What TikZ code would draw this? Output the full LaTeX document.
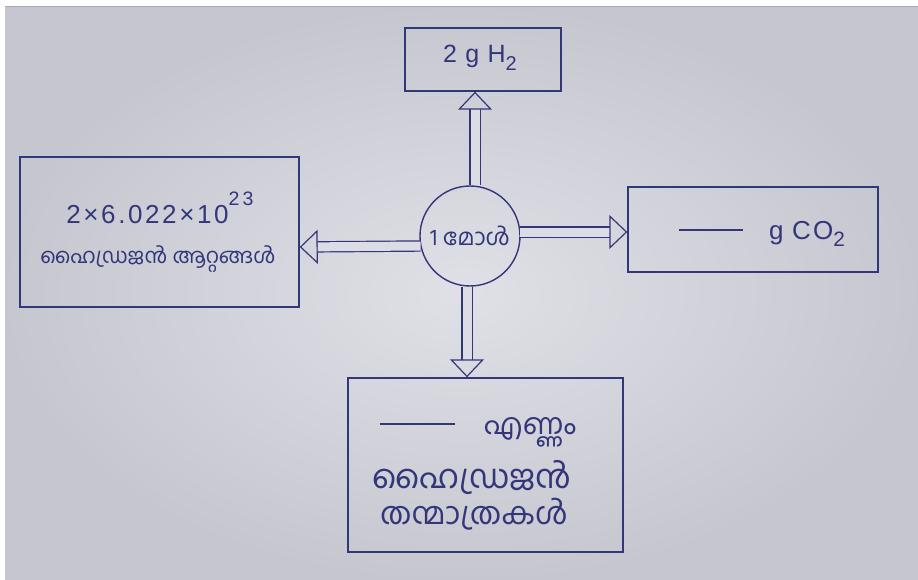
\documentclass[tikz,border=0pt]{standalone}
\usepackage{fontspec}
\setmainfont{Liberation Sans}
\newfontfamily\mlfont[Script=Malayalam]{Hind Kochi}
\usetikzlibrary{arrows.meta,calc}
\definecolor{ink}{HTML}{34367A}
\definecolor{paper}{HTML}{DCDCE4}
\definecolor{paperdark}{HTML}{A6A7B2}
\newcommand{\lowtwo}{\raisebox{-0.3em}{\scalebox{0.8}{2}}}
\newcommand{\hightt}{\raisebox{0.7em}{\scalebox{0.75}{2\,3}}}
\tikzset{
  box/.style={draw=ink, line width=1.4pt, inner sep=0pt},
  lbl/.style={text=ink, align=center},
  conn/.style={draw=ink, line width=1.2pt, double=paper, double distance=9pt,
    -{Triangle[open, length=18pt, width=34pt, line width=1.2pt]}},
}
\begin{document}
\begin{tikzpicture}[x=1pt,y=-1pt]
\useasboundingbox (0,0) rectangle (918,580);
\fill[white] (0,0) rectangle (918,580);
\shade[inner color=paper!70!white, outer color=paperdark] (5,7) rectangle (918,580);
\fill[paper, opacity=0.6] (5,7) rectangle (918,580);

% nodes
\node[box, minimum width=156pt, minimum height=63pt] (top) at (483,59.5) {};
\node[box, minimum width=279pt, minimum height=150pt] (left) at (159.5,232) {};
\node[box, minimum width=250pt, minimum height=85pt] (right) at (753,229.5) {};
\node[box, minimum width=275pt, minimum height=174pt] (bot) at (485.5,465) {};
\node[draw=ink, line width=1.4pt, circle, minimum size=100pt, inner sep=0pt] (c) at (470,236) {};

% texts
\node[lbl, font=\fontsize{25}{28}\selectfont\addfontfeature{LetterSpace=8}] (tt) at (480,58) {2\,\,g\,\,H\lowtwo};
\node[lbl, font=\fontsize{26}{28}\selectfont\addfontfeature{LetterSpace=10}] (lt1) at (160,208) {2×6.022×10\hightt};
\node[lbl, font=\mlfont\fontsize{21}{24}\selectfont] (lt2) at (158,259) {ഹൈഡ്രജൻ ആറ്റങ്ങൾ};
\node[lbl, font=\fontsize{26}{28}\selectfont\addfontfeature{LetterSpace=8}] (rt) at (762,234) {\rule[0.3em]{64pt}{2pt}\quad g\,\,CO\lowtwo};
\node[lbl, font=\mlfont\fontsize{29}{32}\selectfont] (bt1) at (478,432) {\rule[0.3em]{75pt}{2pt}\quad എണ്ണം};
\node[lbl, font=\mlfont\fontsize{33}{36}\selectfont] (bt2) at (472,478) {ഹൈഡ്രജൻ};
\node[lbl, font=\mlfont\fontsize{31}{34}\selectfont] (bt3) at (474,514) {തന്മാത്രകൾ};
\node[lbl, font=\mlfont\fontsize{23}{26}\selectfont] (ct) at (c.center) {1 മോൾ};

% connectors
\draw[conn] (c.north -| 475,0) -- (475,0 |- top.south);
\draw[conn] ($(c.center)+(-49.4,10)$) -- (left.east |- 0,247);
\draw[conn] ($(c.center)+(49.5,-4)$) -- (right.west |- 0,232);
\draw[conn] (c.south -| 467,0) -- (467,0 |- bot.north);
\end{tikzpicture}
\end{document}
